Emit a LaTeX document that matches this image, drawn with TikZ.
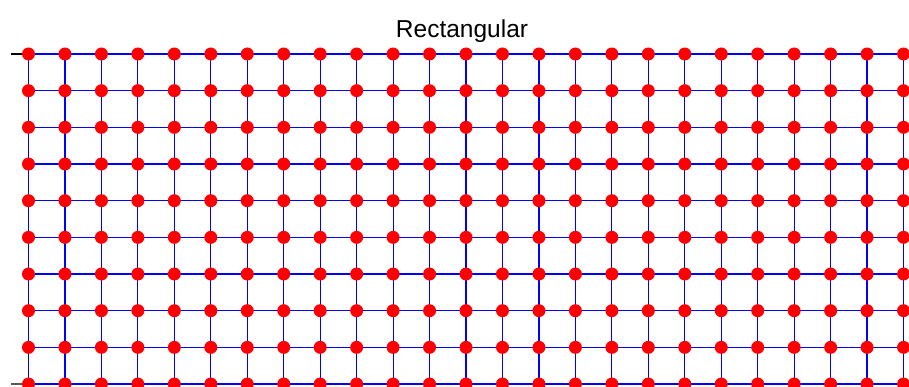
\documentclass[tikz,border=0pt]{standalone}
\usepackage{fontspec}
\setmainfont{Liberation Sans}
\usepackage{tikz}
\usetikzlibrary{positioning}

\begin{document}
\begin{tikzpicture}[
    x=1pt, y=-1pt,
    every node/.style={font=\fontsize{24.5}{28}\selectfont},
    site/.style={circle, fill=red, draw=none, inner sep=0pt, minimum size=13pt},
    bond/.style={draw=blue, line width=1.2pt},
    axisline/.style={draw=black, line width=1.2pt}
]
\useasboundingbox (0,0) rectangle (909,387);
\node[anchor=base] (title) at (462,37.7) {Rectangular};
% lattice sites
\foreach \i in {0,...,24}{
  \foreach \j in {0,...,9}{
    \coordinate (p-\i-\j) at ({28.5+36.46*\i},{54+36.67*\j});
  }
}
% bonds
\foreach \j in {0,...,9}
  \draw[bond] (p-0-\j) -- (p-24-\j);
\foreach \i in {0,...,24}
  \draw[bond] (p-\i-0) -- (p-\i-9);
% axis stubs on the left
\coordinate (ax-top) at (11,54);
\coordinate (ax-bot) at (11,384.03);
\draw[axisline] (ax-top) -- (p-0-0);
\draw[axisline] (ax-bot) -- (p-0-9);
% dots on top
\foreach \i in {0,...,24}{
  \foreach \j in {0,...,9}{
    \node[site] (s-\i-\j) at (p-\i-\j) {};
  }
}
\end{tikzpicture}
\end{document}
